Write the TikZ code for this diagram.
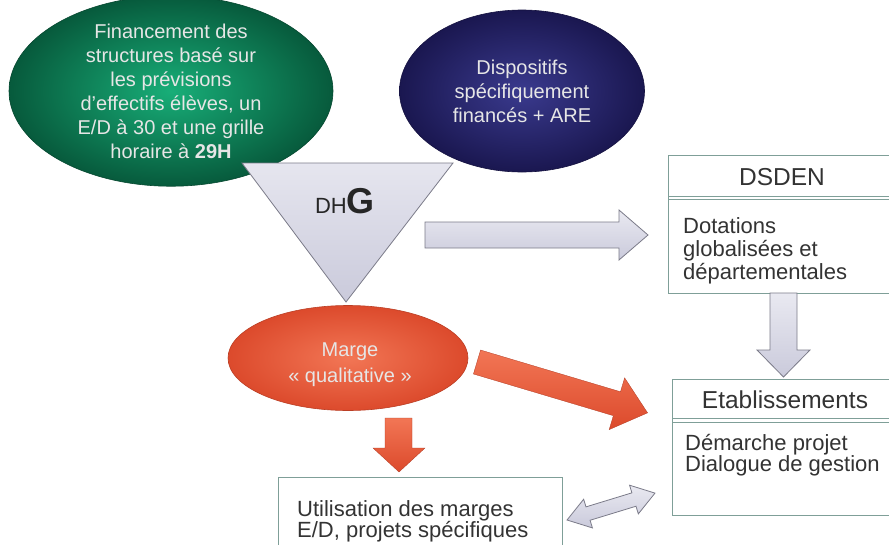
\documentclass[tikz,border=0pt]{standalone}
\usepackage{fontspec}
\setmainfont{Liberation Sans}
\usetikzlibrary{shapes.geometric}

\definecolor{greenin}{HTML}{18AE78}
\definecolor{greenout}{HTML}{075A3C}
\definecolor{bluein}{HTML}{3A3A8E}
\definecolor{blueout}{HTML}{1A1750}
\definecolor{orangein}{HTML}{F27655}
\definecolor{orangeout}{HTML}{DC4A2C}
\definecolor{bubbletext}{HTML}{E6E6E6}
\definecolor{arrowtop}{HTML}{E9E9F1}
\definecolor{arrowbottom}{HTML}{CACADB}
\definecolor{arrowline}{HTML}{7B7B89}
\definecolor{panelline}{HTML}{7F9F98}
\definecolor{paneltext}{HTML}{333333}

\begin{document}
\begin{tikzpicture}[x=1pt, y=-1pt,
    bubble/.style={ellipse, shade, align=center, inner sep=0pt, text=bubbletext,
      font=\fontsize{20}{24}\selectfont, line width=0.6pt},
    grayarrow/.style={draw=arrowline, line width=0.8pt, top color=arrowtop, bottom color=arrowbottom},
    hotarrow/.style={draw=orangeout!80!black, line width=0.3pt, top color=orangein, bottom color=orangeout},
    panel/.style={draw=panelline, line width=0.9pt, fill=white, anchor=north west, inner sep=0pt},
    seprule/.style={draw=panelline, line width=0.8pt},
    head/.style={text=paneltext, font=\fontsize{24.5}{26}\selectfont},
    body/.style={text=paneltext, align=left, anchor=north west, inner sep=0pt}]
  \useasboundingbox (0,0) rectangle (889,544);

  % the three bubbles
  \node[bubble, inner color=greenin, outer color=greenout, draw=greenout!80!black,
    minimum width=324pt, minimum height=160pt] (financement) at (171,91)
    {Financement des\\structures basé sur\\les prévisions\\d’effectifs élèves, un\\E/D à 30 et une grille\\horaire à \textbf{29H}};
  \node[bubble, inner color=bluein, outer color=blueout, draw=blueout!80!black,
    minimum width=245pt, minimum height=162pt] (dispositifs) at (522,91)
    {Dispositifs\\spécifiquement\\financés + ARE};

  % DHG funnel
  \draw[grayarrow, top color=arrowtop!90!arrowbottom] (242,163) -- (453,163) -- (346,302) -- cycle;
  \node[anchor=base, inner sep=0pt, text=black!85] (dhg) at (345,213)
    {\fontsize{22}{22}\selectfont DH\fontsize{36}{36}\selectfont\bfseries G};

  \node[bubble, inner color=orangein, outer color=orangeout, draw=orangeout!85!black,
    minimum width=240pt, minimum height=105pt] (marge) at (348,358) {};
  \node[align=center, text=bubbletext, font=\fontsize{20}{26}\selectfont] (margetext) at (350,365)
    {Marge\\« qualitative »};

  % boxes
  \node[panel, minimum width=230pt, minimum height=138pt] (dsden) at (668,155) {};
  \draw[seprule] (668,196) -- (900,196);
  \draw[seprule] (668,199.5) -- (900,199.5);
  \node[head] (dsdentitle) at (782,177) {DSDEN};
  \node[body, font=\fontsize{22}{23}\selectfont] (dotations) at (683,217)
    {Dotations\\globalisées et\\départementales};

  \node[panel, minimum width=230pt, minimum height=136pt] (etab) at (672,379) {};
  \draw[seprule] (672,418.5) -- (900,418.5);
  \draw[seprule] (672,422) -- (900,422);
  \node[head] (etabtitle) at (785,400) {Etablissements};
  \node[body, font=\fontsize{22}{21}\selectfont] (demarche) at (685,434)
    {Démarche projet\\Dialogue de gestion};

  \node[panel, minimum width=284pt, minimum height=80pt] (usage) at (278,477) {};
  \node[body, font=\fontsize{22}{20}\selectfont] (marges) at (297,500)
    {Utilisation des marges\\E/D, projets spécifiques};

  % block arrows
  \draw[grayarrow] (425,222) -- (619,222) -- (619,210) -- (648,235)
    -- (619,260) -- (619,248) -- (425,248) -- cycle;
  \draw[grayarrow] (770,293) -- (797,293) -- (797,350) -- (810,350)
    -- (783.5,377) -- (757,350) -- (770,350) -- cycle;
  \draw[hotarrow] (385,418) -- (412,418) -- (412,448) -- (425,448)
    -- (399,472) -- (373,448) -- (385,448) -- cycle;
  \begin{scope}[shift={(477,362)}, rotate=-16.6]
    \draw[hotarrow] (0,-12.5) -- (146,-12.5) -- (146,-27) -- (178,0)
      -- (146,27) -- (146,12.5) -- (0,12.5) -- cycle;
  \end{scope}
  \begin{scope}[shift={(567,520)}, rotate=17]
    \draw[grayarrow] (0,0) -- (22,-15) -- (22,-7) -- (70,-7) -- (70,-15) -- (92,0)
      -- (70,15) -- (70,7) -- (22,7) -- (22,15) -- cycle;
  \end{scope}
\end{tikzpicture}
\end{document}
